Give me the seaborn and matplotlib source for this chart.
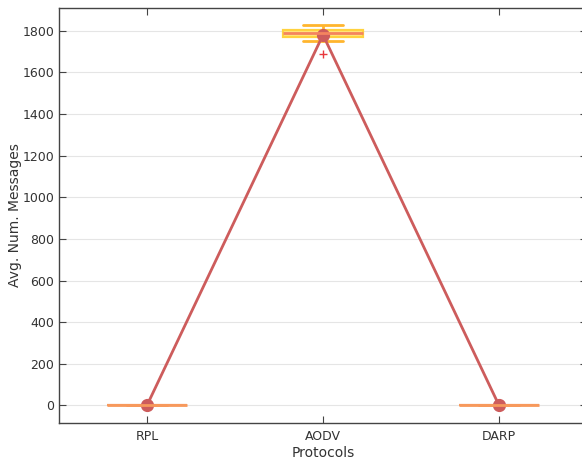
import numpy as np
import pandas as pd
import seaborn as sns
import matplotlib.pyplot as plt

protocols = ['RPL', 'AODV', 'DARP']
rpl_msgs = [0, 0, 0, 0, 0]
aodv_msgs = [1690, 1752, 1771, 1785, 1788, 1792, 1805, 1815, 1829]
darp_msgs = [0, 0, 0, 0, 0]

df = pd.DataFrame({
    'Protocols': ['RPL'] * len(rpl_msgs) + ['AODV'] * len(aodv_msgs) + ['DARP'] * len(darp_msgs),
    'Avg. Num. Messages': rpl_msgs + aodv_msgs + darp_msgs,
})

sns.set_style('whitegrid')
plt.rcParams['font.family'] = ['DejaVu Sans']

fig = plt.figure(figsize=(5.82, 4.59), dpi=100)
ax = fig.add_axes([59 / 582, 1 - 423 / 459, 528 / 582, 415 / 459])

edge_cols = {'RPL': '#f7995c', 'AODV': '#ffb52e', 'DARP': '#f7995c'}
sns.boxplot(data=df, x='Protocols', y='Avg. Num. Messages', order=protocols,
            width=0.46, ax=ax, whis=1.5,
            flierprops=dict(marker='+', markeredgecolor='#e8383d', markersize=6))
for patch, p in zip(ax.patches, protocols):
    patch.set_facecolor('#ffe680')
    patch.set_edgecolor('#ffd23f' if p == 'AODV' else edge_cols[p])
    patch.set_linewidth(1.6)
for i, line in enumerate(ax.lines):
    if line.get_marker() == '+':
        continue
    p = protocols[min(i // 6, 2)]
    line.set_color(edge_cols[p])
    if i % 6 == 4 and p == 'AODV':
        line.set_color('#f4845f')
    line.set_linewidth(2)

sns.pointplot(data=df, x='Protocols', y='Avg. Num. Messages', order=protocols,
              errorbar=None, color='#cd5c5c', ax=ax, markersize=8, linewidth=2)

ax.set_ylim(-85, 1910)
ax.set_yticks(range(0, 1801, 200))
ax.grid(axis='x', visible=False)
ax.grid(axis='y', color='#e5e5e5', linewidth=0.8)
for s in ax.spines.values():
    s.set_visible(True)
    s.set_color('#444444')
    s.set_linewidth(1)
ax.tick_params(direction='in', length=5, color='#444444', labelcolor='#333333',
               labelsize=9, pad=3.5, top=True, right=True, left=True, bottom=True)
ax.tick_params(axis='x', pad=5)
ax.set_xlabel('Protocols', fontsize=10, color='#333333', labelpad=2)
ax.set_ylabel('Avg. Num. Messages', fontsize=10, color='#333333', labelpad=0.5)

fig.savefig('out.png', dpi=100)
